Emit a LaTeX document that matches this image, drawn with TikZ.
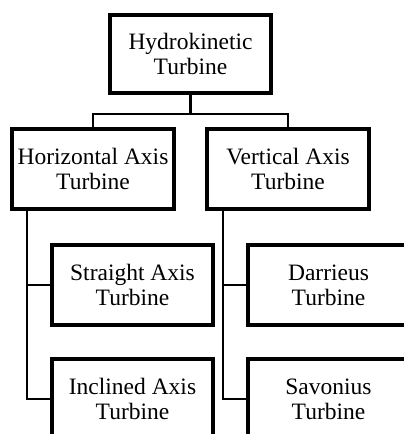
\documentclass[tikz,border=0pt]{standalone}
\usepackage{fontspec}
\setmainfont{Liberation Serif}
\begin{document}
\begin{tikzpicture}[x=1pt,y=1pt,
  box/.style={draw=black, line width=4pt, minimum width=161pt, minimum height=80pt, inner sep=0pt, align=center, font=\fontsize{23.5}{25}\selectfont},
  conn/.style={draw=black, line width=2.7pt}]
\useasboundingbox (0,0) rectangle (404,-434);
\clip (0,0) rectangle (404,-434);
\node[box, minimum height=78pt] (top) at (190.5,-54) {Hydrokinetic\\Turbine};
\node[box, minimum width=162pt] (H) at (93,-169) {Horizontal Axis\\Turbine};
\node[box, minimum width=162pt] (V) at (288,-169) {Vertical Axis\\Turbine};
\node[box] (S) at (132.5,-285) {Straight Axis\\Turbine};
\node[box] (D) at (328.5,-285) {Darrieus\\Turbine};
\node[box] (I) at (132.5,-399) {Inclined Axis\\Turbine};
\node[box] (Sv) at (328.5,-399) {Savonius\\Turbine};
\coordinate (j) at ([yshift=-19pt]top.south);
\draw[conn] (top.south) -- (j) -| (H.north);
\draw[conn] (j) -| (V.north);
\draw[conn] ([xshift=-66pt]H.south) |- (S.west);
\draw[conn] ([xshift=-66pt]H.south) |- (I.west);
\draw[conn] ([xshift=-65pt]V.south) |- (D.west);
\draw[conn] ([xshift=-65pt]V.south) |- (Sv.west);
\end{tikzpicture}
\end{document}
